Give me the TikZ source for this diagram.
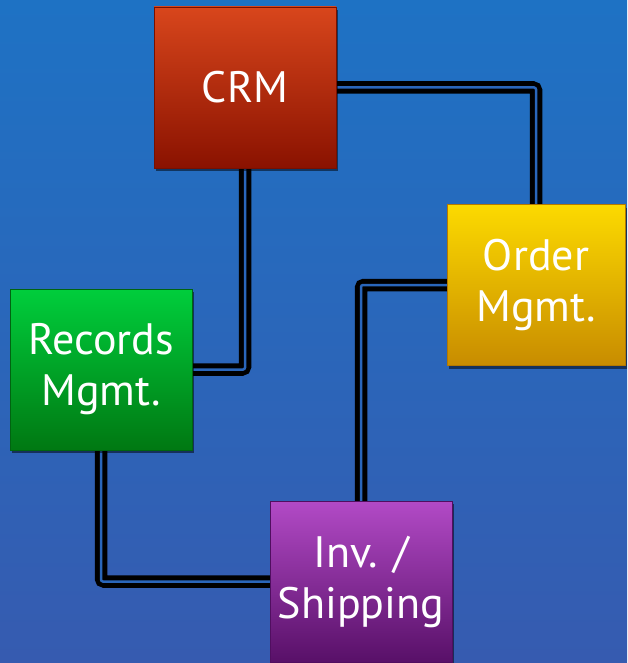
\documentclass[tikz,border=0pt]{standalone}
\usepackage{fontspec}
\setmainfont{PT Sans}
\usetikzlibrary{shadows}
\pgfdeclarelayer{bg}
\pgfdeclarelayer{wires}
\pgfsetlayers{bg,wires,main}
\definecolor{bgtop}{RGB}{30,114,196}
\definecolor{bgbot}{RGB}{54,91,176}
\definecolor{bgmid}{RGB}{42,102,186}

\begin{document}
\begin{tikzpicture}[x=1pt,y=-1pt,
  box/.style={minimum width=182pt, minimum height=161pt, inner sep=0pt,
    align=center, text=white, font=\fontsize{44}{51}\selectfont,
    drop shadow={shadow xshift=2pt, shadow yshift=-3pt, opacity=0.5, fill=black}},
  link/.style={draw=black, line width=12.5pt, rounded corners=3pt},
  stripe/.style={draw=bgmid, line width=2.5pt, rounded corners=2pt}]
  \useasboundingbox (0,0) rectangle (627,663);
  \begin{pgfonlayer}{bg}
    \shade[top color=bgtop, bottom color=bgbot] (0,0) rectangle (627,663);
  \end{pgfonlayer}

  \node[box, top color={rgb,255:red,216;green,70;blue,28}, bottom color={rgb,255:red,138;green,18;blue,0},
        draw={rgb,255:red,120;green,16;blue,0}] (crm) at (245,87.5) {CRM};
  \node[box, top color={rgb,255:red,0;green,206;blue,60}, bottom color={rgb,255:red,0;green,120;blue,18},
        draw={rgb,255:red,0;green,100;blue,16}] (rec) at (101,369.5) {Records\\Mgmt.};
  \node[box, minimum width=178pt, top color={rgb,255:red,252;green,218;blue,0}, bottom color={rgb,255:red,200;green,140;blue,0},
        draw={rgb,255:red,180;green,120;blue,0}] (order) at (536,285) {Order\\Mgmt.};
  \node[box, top color={rgb,255:red,178;green,74;blue,198}, bottom color={rgb,255:red,88;green,16;blue,104},
        draw={rgb,255:red,80;green,14;blue,96}] (inv) at (361,581.5) {Inv. /\\Shipping};

  \begin{pgfonlayer}{wires}
    \draw[link] (crm) -| (order);
    \draw[stripe, xshift=-3pt, yshift=-3pt] (crm) -| (order);
    \draw[link] (crm) |- (rec);
    \draw[stripe, xshift=-3pt, yshift=3pt] (crm) |- (rec);
    \draw[link] (rec) |- (inv);
    \draw[stripe, xshift=3pt, yshift=3pt] (rec) |- (inv);
    \draw[link] (order) -| (inv);
    \draw[stripe, xshift=3pt, yshift=-3pt] (order) -| (inv);
  \end{pgfonlayer}
\end{tikzpicture}
\end{document}
